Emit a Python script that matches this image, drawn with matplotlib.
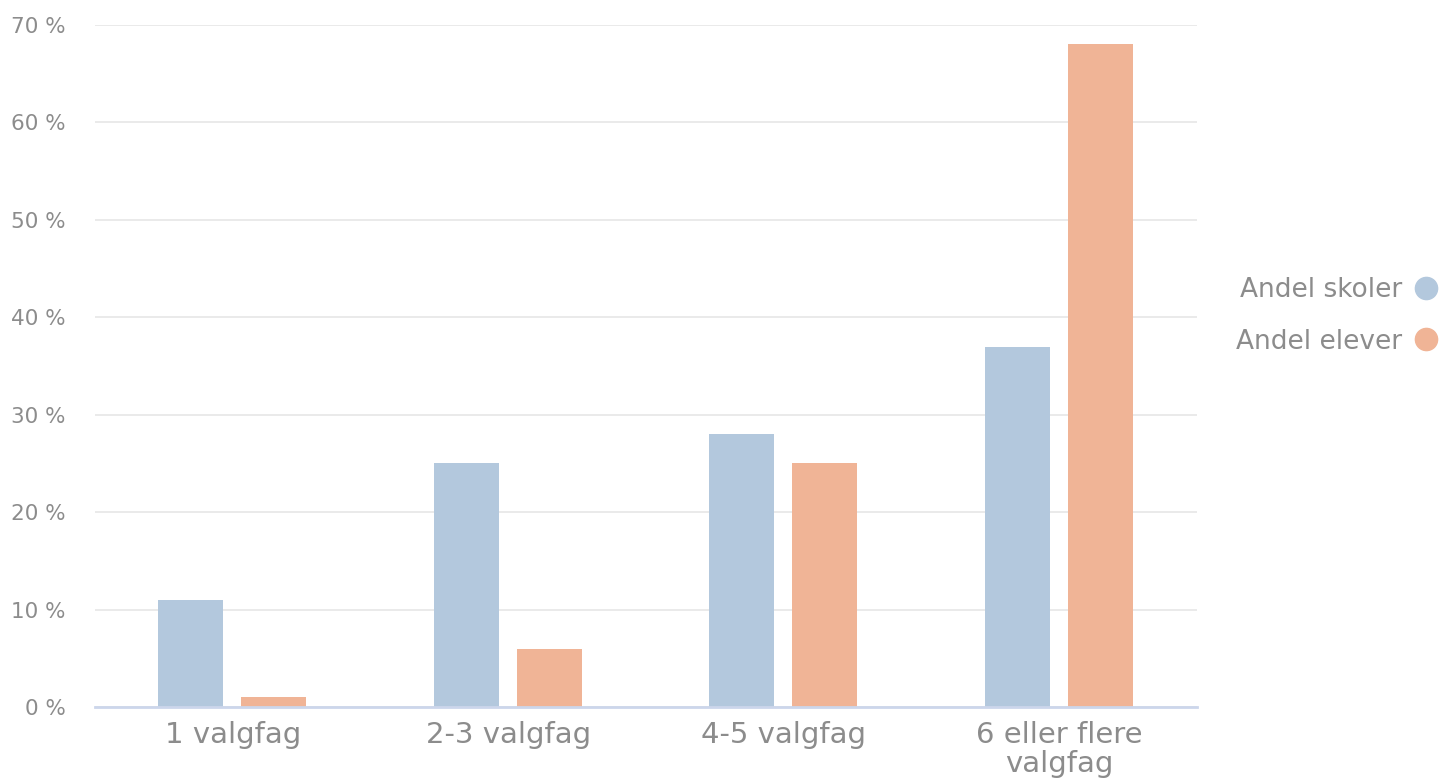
import matplotlib
matplotlib.use("Agg")
import matplotlib.pyplot as plt
from matplotlib.lines import Line2D
import numpy as np

categories = ["1 valgfag", "2-3 valgfag", "4-5 valgfag", "6 eller flere\nvalgfag"]
andel_skoler = [11, 25, 28, 37]
andel_elever = [1, 6, 25, 68]
series_names = ["Andel skoler", "Andel elever"]
y_ticks = [0, 10, 20, 30, 40, 50, 60, 70]
y_tick_labels = [f"{v} %" for v in y_ticks]

blue = "#b3c8dd"
orange = "#f0b496"
text_color = "#8c8c8c"

plt.rcParams['font.family'] = ['DejaVu Sans']

fig = plt.figure(figsize=(14.4, 7.78), dpi=100)
ax = fig.add_axes([95/1440, 1 - 707/778, (1197-95)/1440, (707-25)/778])

x = np.arange(len(categories))
w = 0.236
ax.bar(x - 0.152, andel_skoler, width=w, color=blue, zorder=3)
ax.bar(x + 0.149, andel_elever, width=w, color=orange, zorder=3)

ax.set_xlim(-0.5, len(categories) - 0.5)
ax.set_ylim(0, 70)
ax.set_yticks(y_ticks)
ax.set_yticklabels(y_tick_labels, fontsize=15.5, color=text_color)
ax.set_xticks(x)
ax.set_xticklabels(categories, fontsize=21, color=text_color, linespacing=1.05)
ax.tick_params(axis='y', length=0, pad=21)
ax.tick_params(axis='x', length=0, pad=10)

ax.grid(axis='y', color='#e6e6e6', linewidth=1.2, zorder=0)
for s in ['top', 'right', 'left']:
    ax.spines[s].set_visible(False)
ax.spines['bottom'].set_color('#ccd6eb')
ax.spines['bottom'].set_linewidth(2)
ax.spines['bottom'].set_zorder(4)

handles = [Line2D([], [], linestyle='none', marker='o', markersize=16, color=blue),
           Line2D([], [], linestyle='none', marker='o', markersize=16, color=orange)]
leg = fig.legend(handles, series_names, loc='center right',
                 bbox_to_anchor=(1450/1440, 1 - 316/778), frameon=False,
                 markerfirst=False, fontsize=19, labelspacing=0.95,
                 handletextpad=0.4, handlelength=1.0, borderaxespad=0)
for t in leg.get_texts():
    t.set_color(text_color)

fig.savefig("out.png", dpi=100)
